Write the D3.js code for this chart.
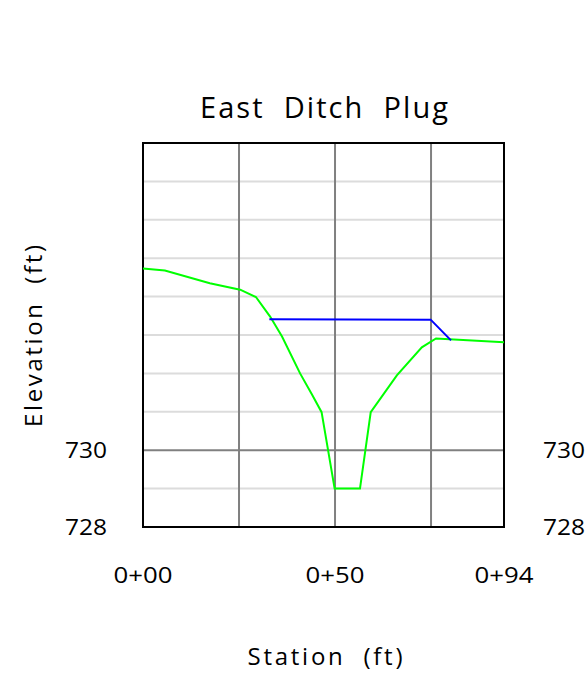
<!DOCTYPE html>
<html>
<head>
<meta charset="utf-8">
<script src="https://cdn.jsdelivr.net/npm/d3@7"></script>
<style>
  body { margin: 0; background: #fff; }
  text { font-family: "Open Sans", "DejaVu Sans", sans-serif; font-weight: 400; fill: #000; }
</style>
</head>
<body>
<svg id="chart" width="588" height="678"></svg>
<script>
// ---- data ----
const groundStation = [0, 5.7, 17.4, 25.3, 29.4, 33.1, 36.2, 40.9, 44.0, 46.5, 49.9, 56.5, 59.3, 66.1, 72.6, 76.3, 94];
const groundElev    = [734.73, 734.68, 734.35, 734.18, 733.99, 733.48, 732.96, 732.0, 731.45, 730.99, 729.0, 729.0, 730.99, 731.95, 732.68, 732.91, 732.81];
const plugStation = [32.9, 74.9, 80.2];
const plugElev    = [733.41, 733.40, 732.86];
const xTickValues = [0, 50, 94];
const xTickLabels = ["0+00", "0+50", "0+94"];
const yTickValues = [728, 730];
const yTickLabels = ["728", "730"];
const xGrid = [25, 50, 75];
const yGrid = [729, 730, 731, 732, 733, 734, 735, 736, 737];
const yMajor = [730];

const svg = d3.select("#chart");
const x = d3.scaleLinear().domain([0, 94]).range([143, 504]);
const y = d3.scaleLinear().domain([728, 738]).range([527, 143]);

// horizontal grid
svg.append("g").selectAll("line").data(yGrid).join("line")
  .attr("x1", x(0)).attr("x2", x(94))
  .attr("y1", d => y(d)).attr("y2", d => y(d))
  .attr("stroke", d => yMajor.includes(d) ? "#808080" : "#dcdcdc")
  .attr("stroke-width", 2);

// vertical grid
svg.append("g").selectAll("line").data(xGrid).join("line")
  .attr("x1", d => x(d)).attr("x2", d => x(d))
  .attr("y1", y(728)).attr("y2", y(738))
  .attr("stroke", "#808080").attr("stroke-width", 2);

// frame
svg.append("rect")
  .attr("x", x(0)).attr("y", y(738))
  .attr("width", x(94) - x(0)).attr("height", y(728) - y(738))
  .attr("fill", "none").attr("stroke", "#000").attr("stroke-width", 2);

const line = d3.line().x(d => x(d[0])).y(d => y(d[1]));

svg.append("path")
  .datum(groundStation.map((s, i) => [s, groundElev[i]]))
  .attr("d", line).attr("fill", "none")
  .attr("stroke", "#00ff00").attr("stroke-width", 2);

svg.append("path")
  .datum(plugStation.map((s, i) => [s, plugElev[i]]))
  .attr("d", line).attr("fill", "none")
  .attr("stroke", "#0000ff").attr("stroke-width", 2);

// x tick labels
svg.append("g").selectAll("text").data(xTickValues).join("text")
  .attr("x", d => x(d)).attr("y", 583)
  .attr("text-anchor", "middle").attr("font-size", 21)
  .attr("textLength", 59).attr("lengthAdjust", "spacingAndGlyphs")
  .text((d, i) => xTickLabels[i]);

// y tick labels left
svg.append("g").selectAll("text").data(yTickValues).join("text")
  .attr("x", 107).attr("y", d => y(d) + 8)
  .attr("text-anchor", "end").attr("font-size", 21)
  .attr("textLength", 42).attr("lengthAdjust", "spacingAndGlyphs")
  .text((d, i) => yTickLabels[i]);

// y tick labels right
svg.append("g").selectAll("text").data(yTickValues).join("text")
  .attr("x", 543).attr("y", d => y(d) + 8)
  .attr("text-anchor", "start").attr("font-size", 21)
  .attr("textLength", 42).attr("lengthAdjust", "spacingAndGlyphs")
  .text((d, i) => yTickLabels[i]);

// title
svg.append("text")
  .attr("x", 324).attr("y", 118)
  .attr("text-anchor", "middle").attr("font-size", 29)
  .attr("textLength", 248).attr("lengthAdjust", "spacing")
  .attr("xml:space", "preserve")
  .text("East  Ditch  Plug");

// x axis title
svg.append("text")
  .attr("x", 325).attr("y", 665)
  .attr("text-anchor", "middle").attr("font-size", 24)
  .attr("textLength", 155).attr("lengthAdjust", "spacing")
  .attr("xml:space", "preserve")
  .text("Station  (ft)");

// y axis title
svg.append("text")
  .attr("transform", "translate(42,336) rotate(-90)")
  .attr("text-anchor", "middle").attr("font-size", 24)
  .attr("textLength", 182).attr("lengthAdjust", "spacing")
  .attr("xml:space", "preserve")
  .text("Elevation  (ft)");
</script>
</body>
</html>
